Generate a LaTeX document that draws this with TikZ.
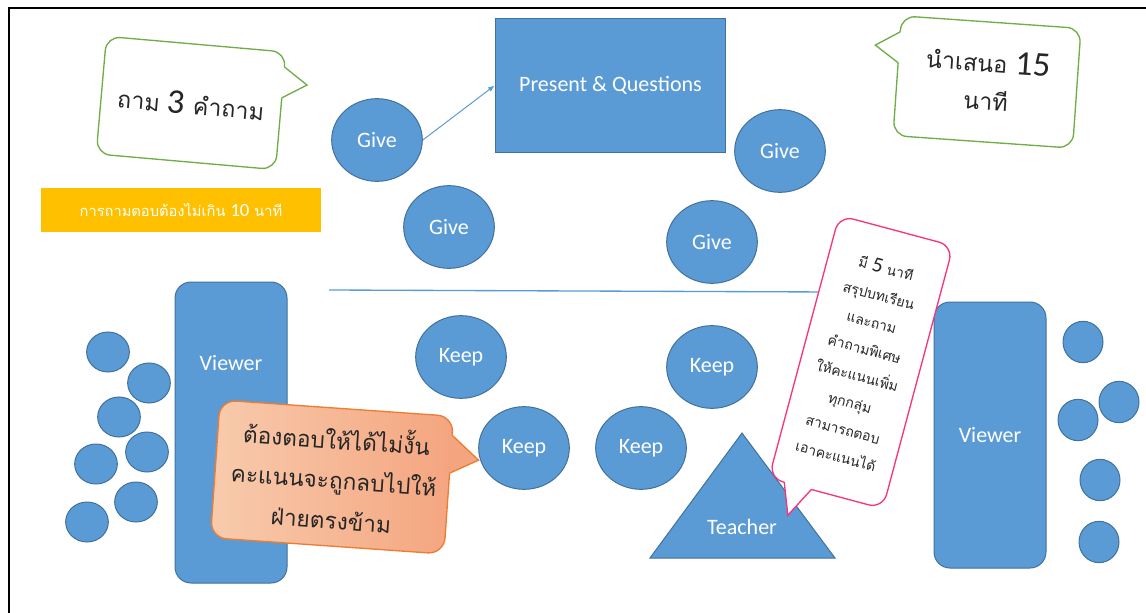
\documentclass[tikz,border=0pt]{standalone}
\usepackage{fontspec}
\setmainfont{Carlito}
\newfontfamily\thaifont[Script=Thai]{Loma}
\usetikzlibrary{positioning,arrows.meta,shapes.geometric}

\definecolor{shapeblue}{HTML}{5B9BD5}
\definecolor{edgeblue}{HTML}{41719C}
\definecolor{callgreen}{HTML}{70AD47}
\definecolor{callpink}{HTML}{F7347E}
\definecolor{barorange}{HTML}{FFC000}
\definecolor{noteL}{HTML}{F8CBAD}
\definecolor{noteR}{HTML}{F4A57F}
\definecolor{noteedge}{HTML}{ED7D31}

\newcommand{\bignum}[2]{{\rmfamily\fontsize{#1}{#1}\selectfont #2}}

\begin{document}
\begin{tikzpicture}[
  x=0.75pt, y=-0.75pt,
  blob/.style={draw=edgeblue, fill=shapeblue, line width=0.75pt, text=white, font=\fontsize{16.5}{20}\selectfont},
  disc/.style={blob, ellipse, minimum width=68pt, minimum height=62pt, inner sep=0pt},
  head/.style={draw=edgeblue, fill=shapeblue, line width=0.75pt, ellipse, inner sep=0pt, minimum width=32pt, minimum height=30pt},
  viewer/.style={blob, rounded corners=12pt, minimum width=84pt, inner sep=0pt},
  lbl/.style={text=white, font=\fontsize{16.5}{20}\selectfont, inner sep=0pt},
  note/.style={align=center, inner sep=0pt, text=black!85},
  >={Latex[length=5pt,width=4pt]}
]
\useasboundingbox (0,0) rectangle (1146,613);
\draw[line width=1.5pt] (9,613) -- (9,8) -- (1146,8);

% top half
\node[fill=barorange, minimum width=210pt, minimum height=33pt, inner sep=0pt, text=white,
  font=\thaifont\fontsize{11}{13}\selectfont] (rulebar) at (181,210) {การถามตอบต้องไม่เกิน \bignum{14}{10} นาที};
\node[blob, minimum width=173pt, minimum height=100pt, inner sep=0pt] (pq) at (610.5,85.5) {Present \& Questions};
\node[disc] (give1) at (377,140) {Give};
\node[disc] (give2) at (449,227) {Give};
\node[disc] (give3) at (780,151) {Give};
\node[disc] (give4) at (712,242) {Give};
\draw[->, shapeblue, line width=0.75pt] (give1.east) -- (pq.west);

\coordinate (splitl) at (329,290);
\coordinate (splitr) at (830,292);
\draw[shapeblue, line width=1pt] (splitl) -- (splitr);

% ask callout
\begin{scope}[shift={(191,103)}, rotate=-5]
  \draw[callgreen, fill=white, line width=1pt, rounded corners=10.5pt] (-90,-59) rectangle (90,59);
  \fill[white] (87,-44) -- (90,-44) -- (114,-28) -- (90,-13) -- (87,-13) -- cycle;
  \draw[callgreen, line width=1pt] (90,-44) -- (114,-28) -- (90,-13);
  \node[note, rotate=-5, font=\thaifont\fontsize{17.5}{28}\selectfont] (askthree) at (0,0) {ถาม \bignum{26}{3} คำถาม};
\end{scope}

% present callout
\begin{scope}[shift={(987,82)}, rotate=-4]
  \draw[callgreen, fill=white, line width=1pt, rounded corners=10.5pt] (-90,-60) rectangle (90,60);
  \fill[white] (-87,-44) -- (-90,-44) -- (-114,-29) -- (-90,-13) -- (-87,-13) -- cycle;
  \draw[callgreen, line width=1pt] (-90,-44) -- (-114,-29) -- (-90,-13);
  \node[note, rotate=-4, font=\thaifont\fontsize{17.5}{28.5}\selectfont] (present15) at (0,-2) {นำเสนอ \bignum{26}{15}\\นาที};
\end{scope}

% bottom half
\node[viewer, minimum height=225.75pt] (viewl) at (231,432.5) {};
\node[lbl] (viewltxt) at (231,363) {Viewer};
\foreach \p [count=\i] in {(108,352),(149,383),(119,417),(147,452),(96,464),(136,502),(87,522)}
  \node[head] (seatl\i) at \p {};

\node[disc] (keep1) at (461,357) {Keep};
\node[disc] (keep2) at (524,448) {Keep};
\node[disc] (keep3) at (712,367) {Keep};
\node[disc] (keep4) at (641,448) {Keep};

% warning callout
\begin{scope}[shift={(332,477)}, rotate=-4]
  \draw[noteedge, left color=noteL, right color=noteR, line width=1pt, rounded corners=12pt] (-117,-69) rectangle (117,69);
  \fill[noteR] (114,-50) -- (117,-50) -- (145,-27) -- (117,-12) -- (114,-12) -- cycle;
  \draw[noteedge, line width=1pt] (117,-50) -- (145,-27) -- (117,-12);
  \node[note, rotate=-4, font=\thaifont\fontsize{17}{30}\selectfont] (warn) at (2,0) {ต้องตอบให้ได้ไม่งั้น\\คะแนนจะถูกลบไปให้\\ฝ่ายตรงข้าม};
\end{scope}

\path[draw=edgeblue, fill=shapeblue, line width=0.75pt] (650,558) -- (742,433) -- (835,558) -- cycle;
\node[lbl] (teacher) at (742,527) {Teacher};

\node[viewer, minimum height=199.5pt] (viewr) at (990,435) {Viewer};
\foreach \p [count=\i] in {(1083,342),(1119,402),(1078,420),(1100,480),(1099,542)}
  \node[head, minimum width=30pt, minimum height=31pt] (seatr\i) at \p {};

% bonus callout
\begin{scope}[shift={(861,362)}, rotate=-15]
  \draw[callpink, fill=white, line width=1pt, rounded corners=11pt] (-59,-136) rectangle (59,136);
  \fill[white] (-43,133) -- (-43,136) -- (-31,167) -- (-15,136) -- (-15,133) -- cycle;
  \draw[callpink, line width=1pt] (-43,136) -- (-31,167) -- (-15,136);
  \node[note, rotate=-15, font=\thaifont\fontsize{10.5}{20.8}\selectfont] (bonus) at (0,-1)
    {มี \bignum{16}{5} นาที\\สรุปบทเรียน\\และถาม\\คำถามพิเศษ\\ให้คะแนนเพิ่ม\\ทุกกลุ่ม\\สามารถตอบ\\เอาคะแนนได้};
\end{scope}
\end{tikzpicture}
\end{document}
